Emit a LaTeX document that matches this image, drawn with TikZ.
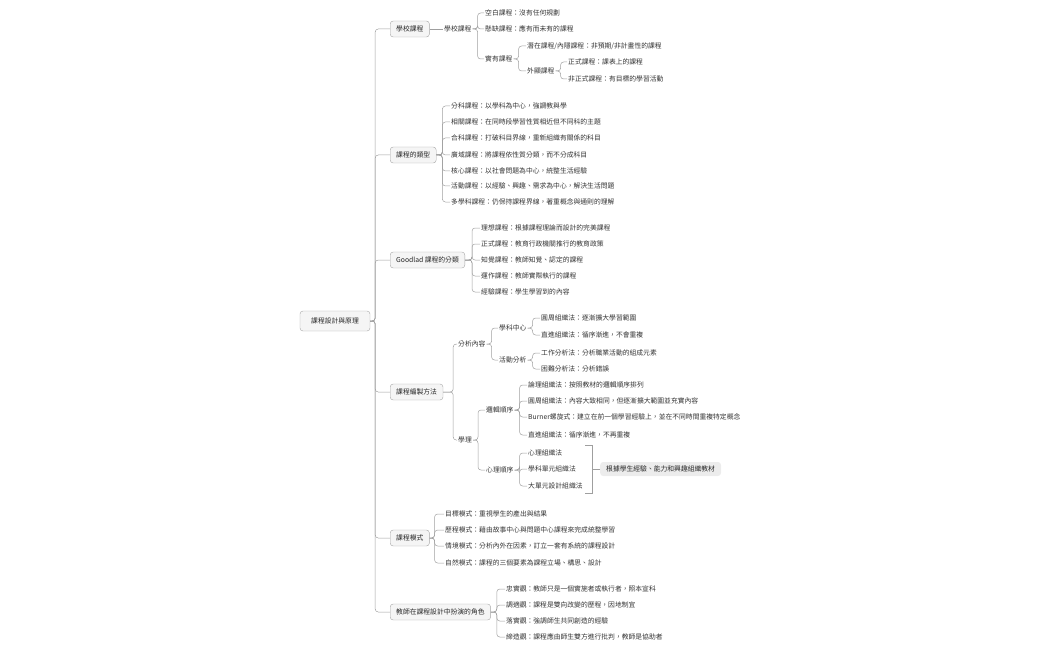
\documentclass[tikz,border=0pt]{standalone}
\usepackage{fontspec}
\setmainfont{Noto Sans CJK TC}
\usepackage{tikz}

\tikzset{
  leaf/.style={anchor=west,inner sep=1pt,text=black!80},
  topic/.style={anchor=west,draw=gray!70,fill=gray!8,rounded corners=3pt,minimum height=16pt,inner xsep=6pt,text=black!85},
  link/.style={draw=gray!75,line width=0.5pt,rounded corners=3pt},
  note/.style={anchor=west,fill=gray!15,rounded corners=3pt,minimum height=14pt,inner xsep=6pt,text=black!85}
}

\begin{document}
\begin{tikzpicture}[x=1pt,y=-1pt,font=\fontsize{6.8}{8}\selectfont]
\useasboundingbox (0,0) rectangle (1050,650);
\node[topic,anchor=center,minimum width=70pt,minimum height=20pt] (root) at (335,321) {課程設計與原理};
\foreach \n/\y/\l in{
a/29/{學校課程},
b/155/{課程的類型},
c/260/{Goodlad 課程的分類},
d/392/{課程編製方法},
e/538/{課程模式},
f/612/{教師在課程設計中扮演的角色}
}
{
  \node[topic] (\n) at (390,\y) {\l};
  \draw[link] (root.east) -- ++(5,0) |- (\n.west);
}
% school curriculum
\node[leaf] (a1) at (443,29) {學校課程};
\draw[link] (a.east) -- (a1.west);
\foreach \n/\y/\l in{
1/13/{空白課程：沒有任何規劃},
2/29/{懸缺課程：應有而未有的課程},
3/59/{實有課程}
}
{
  \node[leaf] (a1\n) at (484,\y) {\l};
  \draw[link] (a1.east) -- ++(5,0) |- (a1\n.west);
}
\node[leaf] (a131) at (526,46) {潛在課程/內隱課程：非預期/非計畫性的課程};
\node[leaf] (a132) at (526,71) {外顯課程};
\foreach \n in {a131,a132}
  \draw[link] (a13.east) -- ++(5,0) |- (\n.west);
\node[leaf] (a1321) at (567,62) {正式課程：課表上的課程};
\node[leaf] (a1322) at (567,79) {非正式課程：有目標的學習活動};
\foreach \n in {a1321,a1322}
  \draw[link] (a132.east) -- ++(5,0) |- (\n.west);
% types
\foreach \n/\y/\l in{
1/106/{分科課程：以學科為中心，強調教與學},
2/122/{相關課程：在同時段學習性質相近但不同科的主題},
3/138/{合科課程：打破科目界線，重新組織有關係的科目},
4/155/{廣域課程：將課程依性質分類，而不分成科目},
5/171/{核心課程：以社會問題為中心，統整生活經驗},
6/186/{活動課程：以經驗、興趣、需求為中心，解決生活問題},
7/202/{多學科課程：仍保持課程界線，著重概念與通則的理解}
}
{
  \node[leaf] (b\n) at (450,\y) {\l};
  \draw[link] (b.east) -- ++(6,0) |- (b\n.west);
}
% Goodlad
\foreach \n/\y/\l in{
1/228/{理想課程：根據課程理論而設計的完美課程},
2/244/{正式課程：教育行政機關推行的教育政策},
3/260/{知覺課程：教師知覺、認定的課程},
4/276/{運作課程：教師實際執行的課程},
5/292/{經驗課程：學生學習到的內容}
}
{
  \node[leaf] (c\n) at (480,\y) {\l};
  \draw[link] (c.east) -- ++(7,0) |- (c\n.west);
}
% methods
\node[leaf] (d1) at (457,344) {分析內容};
\node[leaf] (d2) at (457,440) {學理};
\foreach \n in {d1,d2}
  \draw[link] (d.east) -- ++(10,0) |- (\n.west);
\node[leaf] (d11) at (498,328) {學科中心};
\node[leaf] (d12) at (498,360) {活動分析};
\foreach \n in {d11,d12}
  \draw[link] (d1.east) -- ++(5,0) |- (\n.west);
\node[leaf] (d111) at (540,318) {圓周組織法：逐漸擴大學習範圍};
\node[leaf] (d112) at (540,335) {直進組織法：循序漸進，不會重複};
\node[leaf] (d121) at (540,353) {工作分析法：分析職業活動的組成元素};
\node[leaf] (d122) at (540,369) {困難分析法：分析錯誤};
\foreach \p/\n in {d11/d111,d11/d112,d12/d121,d12/d122}
  \draw[link] (\p.east) -- ++(5,0) |- (\n.west);
\node[leaf] (d21) at (485,410) {邏輯順序};
\node[leaf] (d22) at (485,470) {心理順序};
\foreach \n in {d21,d22}
  \draw[link] (d2.east) -- ++(5,0) |- (\n.west);
\foreach \n/\y/\l in{
1/385/{論理組織法：按照教材的邏輯順序排列},
2/401/{圓周組織法：內容大致相同，但逐漸擴大範圍並充實內容},
3/417/{Burner螺旋式：建立在前一個學習經驗上，並在不同時間重複特定概念},
4/435/{直進組織法：循序漸進，不再重複}
}
{
  \node[leaf] (d21\n) at (527,\y) {\l};
  \draw[link] (d21.east) -- ++(5,0) |- (d21\n.west);
}
\foreach \n/\y/\l in{
1/453/{心理組織法},
2/469/{學科單元組織法},
3/486/{大單元設計組織法}
}
{
  \node[leaf] (d22\n) at (527,\y) {\l};
  \draw[link] (d22.east) -- ++(5,0) |- (d22\n.west);
}
\coordinate (brt) at (585,445);
\coordinate (brb) at (585,493);
\draw[link,rounded corners=0pt] (brt) -- ++(7,0) coordinate (brm) -- (brm |- brb) -- (brb);
\node[note] (dn) at (600,469) {根據學生經驗、能力和興趣組織教材};
\draw[link] (brm |- dn) -- (dn.west);
% models
\foreach \n/\y/\l in{
1/514/{目標模式：重視學生的產出與結果},
2/530/{歷程模式：藉由故事中心與問題中心課程來完成統整學習},
3/546/{情境模式：分析內外在因素，訂立一套有系統的課程設計},
4/563/{自然模式：課程的三個要素為課程立場、構思、設計}
}
{
  \node[leaf] (e\n) at (444,\y) {\l};
  \draw[link] (e.east) -- ++(5,0) |- (e\n.west);
}
% teacher roles
\foreach \n/\y/\l in{
1/589/{忠實觀：教師只是一個實施者或執行者，照本宣科},
2/605/{調適觀：課程是雙向改變的歷程，因地制宜},
3/621/{落實觀：強調師生共同創造的經驗},
4/637/{締造觀：課程應由師生雙方進行批判，教師是協助者}
}
{
  \node[leaf] (f\n) at (505,\y) {\l};
  \draw[link] (f.east) -- ++(6,0) |- (f\n.west);
}
\end{tikzpicture}
\end{document}
